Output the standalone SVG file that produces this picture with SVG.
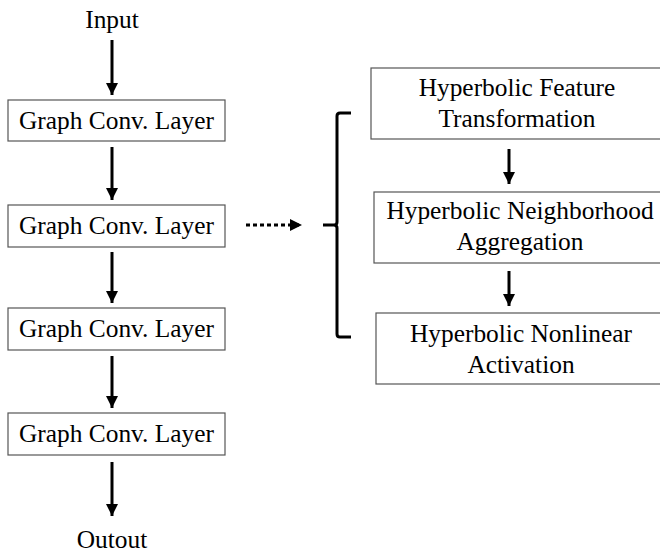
<svg xmlns="http://www.w3.org/2000/svg" width="660" height="552" viewBox="0 0 660 552">
<defs>
<style>
text{font-family:"Liberation Serif","Times New Roman",serif;font-size:25.4px;fill:#000;text-anchor:middle}
.box{fill:#fff;stroke:#555;stroke-width:1.2}
.arr{stroke:#000;stroke-width:3;fill:none}
.dot{stroke:#000;stroke-width:3;fill:none;stroke-dasharray:4 3}
.br{stroke:#000;stroke-width:3;fill:none;stroke-linejoin:round}
</style>
<marker id="ah" viewBox="0 0 10 10" refX="10" refY="5" markerWidth="4" markerHeight="4" markerUnits="strokeWidth" orient="auto">
<path d="M0,0 L10,5 L0,10 Z" fill="#000"/>
</marker>
</defs>
<rect width="660" height="552" fill="#fff"/>
<g id="input"><text x="112" y="28">Input</text></g>
<g id="gc1"><rect class="box" x="8" y="100" width="217" height="41"/><text x="116.5" y="129">Graph Conv. Layer</text></g>
<g id="gc2"><rect class="box" x="8" y="205" width="217" height="42"/><text x="116.5" y="234">Graph Conv. Layer</text></g>
<g id="gc3"><rect class="box" x="8" y="308" width="217" height="42"/><text x="116.5" y="337">Graph Conv. Layer</text></g>
<g id="gc4"><rect class="box" x="8" y="413" width="217" height="42"/><text x="116.5" y="442">Graph Conv. Layer</text></g>
<g id="output"><text x="112" y="548">Outout</text></g>
<g id="hft"><rect class="box" x="371" y="68" width="300" height="71"/><text x="517" y="96">Hyperbolic Feature</text><text x="517" y="127">Transformation</text></g>
<g id="hna"><rect class="box" x="374" y="192" width="300" height="71"/><text x="520" y="219">Hyperbolic Neighborhood</text><text x="520" y="250">Aggregation</text></g>
<g id="hnla"><rect class="box" x="376" y="313" width="300" height="71"/><text x="521" y="342">Hyperbolic Nonlinear</text><text x="521" y="373">Activation</text></g>
<g id="connectors">
<line class="arr" x1="112" y1="40" x2="112" y2="95" marker-end="url(#ah)"/>
<line class="arr" x1="112" y1="147" x2="112" y2="200" marker-end="url(#ah)"/>
<line class="arr" x1="112" y1="252" x2="112" y2="303" marker-end="url(#ah)"/>
<line class="arr" x1="112" y1="356" x2="112" y2="408" marker-end="url(#ah)"/>
<line class="arr" x1="112" y1="462" x2="112" y2="516" marker-end="url(#ah)"/>
<line class="arr" x1="509" y1="149" x2="509" y2="184" marker-end="url(#ah)"/>
<line class="arr" x1="509" y1="271" x2="509" y2="306" marker-end="url(#ah)"/>
<line class="dot" x1="246" y1="225" x2="302" y2="225" marker-end="url(#ah)"/>
<path class="br" d="M351,113 H340 Q337,113 337,116 V222 Q337,225 334,225 H323 M334,225 Q337,225 337,228 V334 Q337,337 340,337 H351"/>
</g>
</svg>
